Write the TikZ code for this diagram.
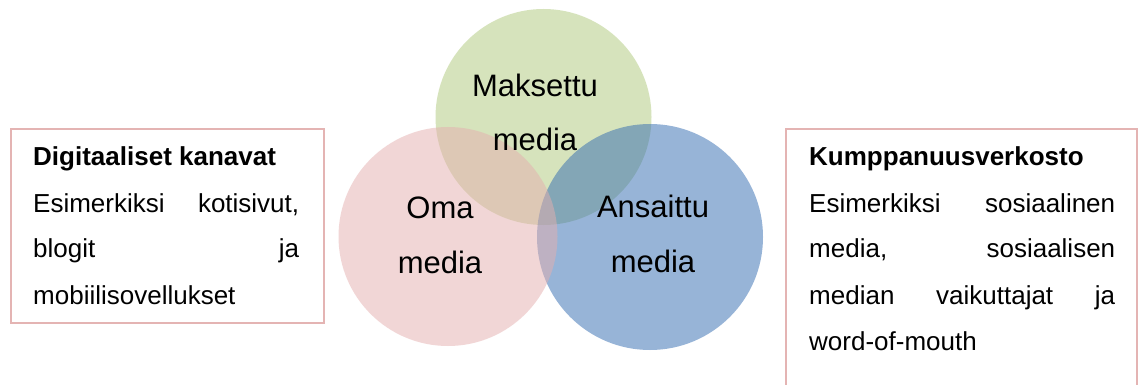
\documentclass[tikz,border=0pt]{standalone}
\usepackage{fontspec}
\setmainfont{Liberation Sans}
\definecolor{cgreen}{RGB}{175,201,123}
\definecolor{cblue}{RGB}{49,107,177}
\definecolor{cpink}{RGB}{229,175,175}
\definecolor{cborder}{RGB}{228,180,179}
\begin{document}
\begin{tikzpicture}[x=1pt,y=-1pt,
  venn/.style={circle, draw=none, fill opacity=0.5, inner sep=0},
  frame/.style={draw=cborder, line width=2.2pt},
  big/.style={font=\fontsize{31}{36}\selectfont, inner sep=0, anchor=base},
  body/.style={font=\fontsize{26}{30}\selectfont, inner sep=0, anchor=base west},
  head/.style={font=\fontsize{26}{30}\selectfont\bfseries, inner sep=0, anchor=base west}]
\useasboundingbox (0,0) rectangle (1138,385);
\clip (0,0) rectangle (1138,385);
\fill[white] (0,0) rectangle (1138,385);
% circles
\node[venn, fill=cgreen, minimum size=216pt] (paid) at (543.5,117) {};
\node[venn, fill=cblue, minimum size=226pt] (earned) at (650,237) {};
\node[venn, fill=cpink, minimum size=219pt] (own) at (448,236.5) {};
% circle texts
\node[big] (paid1) at (535,97) {Maksettu};
\node[big] (paid2) at (535,150) {media};
\node[big] (own1) at (440,218) {Oma};
\node[big] (own2) at (440,273) {media};
\node[big] (earned1) at (653,217) {Ansaittu};
\node[big] (earned2) at (653,272) {media};
% left box
\node[frame, rectangle, inner sep=0, minimum width=313pt, minimum height=194pt, anchor=north west] (lbox) at (10,128) {};
\node[head] (l1) at (33,165) {Digitaaliset kanavat};
\node[body] (l2) at (33,212) {\makebox[266pt][s]{Esimerkiksi kotisivut,}};
\node[body] (l3) at (33,257) {\makebox[266pt][s]{blogit ja}};
\node[body] (l4) at (33,304) {mobiilisovellukset};
% right box
\node[frame, rectangle, inner sep=0, minimum width=351pt, minimum height=280pt, anchor=north west] (rbox) at (785,128) {};
\node[head] (r1) at (809,165) {Kumppanuusverkosto};
\node[body] (r2) at (809,212) {\makebox[306pt][s]{Esimerkiksi sosiaalinen}};
\node[body] (r3) at (809,257) {\makebox[306pt][s]{media, sosiaalisen}};
\node[body] (r4) at (809,304) {\makebox[306pt][s]{median vaikuttajat ja}};
\node[body] (r5) at (809,350) {word-of-mouth};
\end{tikzpicture}
\end{document}
